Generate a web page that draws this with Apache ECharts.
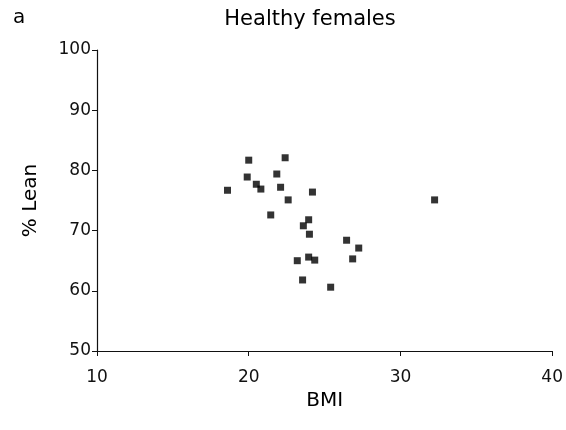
<!DOCTYPE html>
<html>
<head>
<meta charset="utf-8">
<script src="https://cdn.jsdelivr.net/npm/echarts@6/dist/echarts.min.js"></script>
<style>
  html, body { margin: 0; padding: 0; background: #fff; }
  #chart { width: 566px; height: 430px; }
</style>
</head>
<body>
<div id="chart"></div>
<script>
// BMI vs % lean, healthy females
const bmi = [
  18.6, 20.0, 19.9, 20.5, 20.8, 21.45, 21.85, 22.4, 22.1, 22.6,
  24.2, 23.95, 23.6, 24.0, 23.2, 23.95, 24.35, 23.55, 25.4, 26.45,
  26.85, 27.25, 32.25,
];
const lean = [
  76.7, 81.7, 78.9, 77.7, 76.9, 72.6, 79.4, 82.1, 77.2, 75.1,
  76.4, 71.8, 70.8, 69.4, 65.0, 65.6, 65.1, 61.8, 60.6, 68.4,
  65.3, 67.1, 75.1,
];
const xTicks = [10, 20, 30, 40];
const yTicks = [50, 60, 70, 80, 90, 100];

const font = 'DejaVu Sans, Verdana, sans-serif';
const chart = echarts.init(document.getElementById('chart'));

chart.setOption({
  animation: false,
  backgroundColor: '#fff',
  title: [
    {
      text: 'Healthy females',
      left: 305,
      textAlign: 'center',
      top: 4,
      textStyle: { fontFamily: font, fontSize: 21, fontWeight: 'normal', color: '#000' },
    },
    {
      text: 'a',
      left: 8,
      top: 3,
      textStyle: { fontFamily: font, fontSize: 20, fontWeight: 'normal', color: '#000' },
    },
  ],
  grid: { left: 97, right: 13, top: 50, bottom: 79 },
  xAxis: {
    type: 'value',
    min: xTicks[0],
    max: xTicks[xTicks.length - 1],
    interval: 10,
    name: 'BMI',
    nameLocation: 'middle',
    nameGap: 38,
    nameTextStyle: { fontFamily: font, fontSize: 20, color: '#000' },
    axisLine: { lineStyle: { color: '#111', width: 1.2 } },
    axisTick: { show: true, length: 5, lineStyle: { color: '#111' } },
    axisLabel: { fontFamily: font, fontSize: 17, color: '#111', margin: 18 },
    splitLine: { show: false },
  },
  yAxis: {
    type: 'value',
    min: yTicks[0],
    max: yTicks[yTicks.length - 1],
    interval: 10,
    name: '% Lean',
    nameLocation: 'middle',
    nameRotate: 90,
    nameGap: 56,
    nameTextStyle: { fontFamily: font, fontSize: 20, color: '#000' },
    axisLine: { show: true, lineStyle: { color: '#111', width: 1.2 } },
    axisTick: { show: true, length: 5, lineStyle: { color: '#111' } },
    axisLabel: { fontFamily: font, fontSize: 17, color: '#111', margin: 6 },
    splitLine: { show: false },
  },
  series: [
    {
      type: 'scatter',
      symbol: 'rect',
      symbolSize: 7,
      itemStyle: { color: '#000' },
      data: bmi.map((b, i) => [b, lean[i]]),
    },
  ],
});
</script>
</body>
</html>
